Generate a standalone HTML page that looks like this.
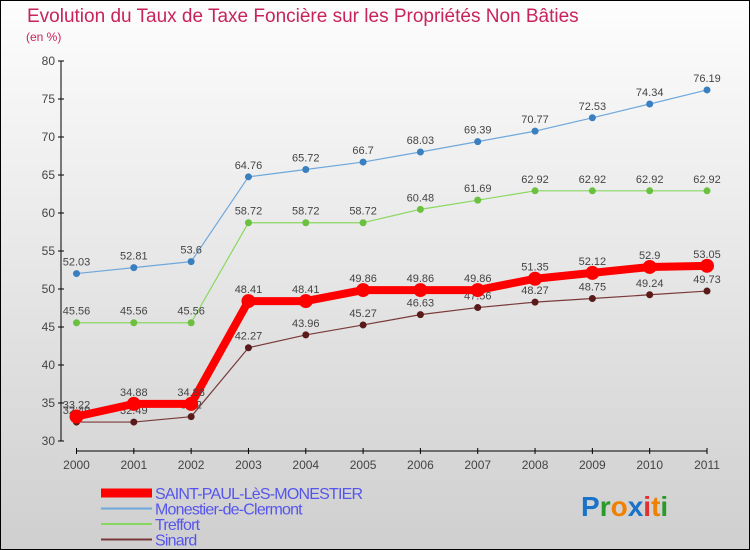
<!DOCTYPE html>
<html><head><meta charset="utf-8"><style>
body{margin:0}
#c{width:750px;height:550px;position:relative;box-sizing:border-box;border:1px solid #000;background:linear-gradient(#fdfdfd,#cfcfcf);font-family:"Liberation Sans",sans-serif;overflow:hidden}
</style></head><body>
<div id="c">
<svg id="s" width="748" height="548" style="position:absolute;left:0;top:0">
<text x="26" y="21" font-size="19" fill="#c8235a">Evolution du Taux de Taxe Foncière sur les Propriétés Non Bâties</text>
<text x="25" y="40" font-size="12" fill="#c8235a">(en %)</text>
<g id="axes"></g><g id="series"></g><g id="legend"></g>
<text x="580" y="515" font-size="28" font-weight="bold"><tspan fill="#1a73c9">P</tspan><tspan fill="#2a9a2a">r</tspan><tspan fill="#f08000">o</tspan><tspan fill="#1a73c9">x</tspan><tspan fill="#e03030">i</tspan><tspan fill="#f08000">t</tspan><tspan fill="#2a9a2a">i</tspan></text>
</svg>
</div>
<script>
const years=["2000","2001","2002","2003","2004","2005","2006","2007","2008","2009","2010","2011"];
const yTicks=[30,35,40,45,50,55,60,65,70,75,80];
const saintPaul=[33.22,34.88,34.88,48.41,48.41,49.86,49.86,49.86,51.35,52.12,52.9,53.05];
const monestier=[52.03,52.81,53.6,64.76,65.72,66.7,68.03,69.39,70.77,72.53,74.34,76.19];
const treffort=[45.56,45.56,45.56,58.72,58.72,58.72,60.48,61.69,62.92,62.92,62.92,62.92];
const sinard=[32.49,32.49,33.2,42.27,43.96,45.27,46.63,47.56,48.27,48.75,49.24,49.73];
const NS="http://www.w3.org/2000/svg";
const X=i=>75.5+i*(706-75.5)/11;
const Y=v=>440-(v-30)*7.6;
function mk(t,a,p){const e=document.createElementNS(NS,t);for(const k in a)e.setAttribute(k,a[k]);p.appendChild(e);return e;}
const ax=document.getElementById('axes');
let l=mk('line',{x1:60,y1:60,x2:60,y2:440,stroke:'#000'},ax);


l=mk('line',{x1:75.5,y1:450,x2:706,y2:450,stroke:'#000'},ax);


yTicks.forEach(v=>{mk('line',{x1:57,x2:63,y1:Y(v),y2:Y(v),stroke:'#000'},ax);
const t=mk('text',{x:54,y:Y(v)+4,'font-size':12,fill:'#444','text-anchor':'end'},ax);t.textContent=v;

});
years.forEach((y,i)=>{mk('line',{x1:X(i),x2:X(i),y1:447,y2:453,stroke:'#000'},ax);
const t=mk('text',{x:X(i),y:468,'font-size':12,fill:'#444','text-anchor':'middle'},ax);t.textContent=y;

});
const sg=document.getElementById('series');
function draw(name,vals,color,w,r,dot){
const g=mk('g',{},sg);


mk('polyline',{points:vals.map((v,i)=>X(i)+','+Y(v)).join(' '),fill:'none',stroke:color,'stroke-width':w,'stroke-linejoin':'round'},g);
vals.forEach((v,i)=>{const c=mk('circle',{cx:X(i),cy:Y(v),r:r,fill:dot},g);


const t=mk('text',{x:X(i),y:Y(v)-8,'font-size':11,fill:'#444','text-anchor':'middle'},g);t.textContent=v;

});}
draw('monestier',monestier,'#6fa8dc',1.2,3.5,'#3a7fc0');
draw('treffort',treffort,'#88d860',1.2,3.5,'#6cc040');
draw('sinard',sinard,'#7a3a3a',1.2,3.5,'#5a1a1a');
draw('saint-paul',saintPaul,'#ff0000',8,7,'#ff0000');
const lg=document.getElementById('legend');
[['SAINT-PAUL-LèS-MONESTIER','#ff0000',9],['Monestier-de-Clermont','#6fa8dc',2],['Treffort','#88d860',2],['Sinard','#7a3a3a',2]].forEach((d,i)=>{
const y=492+i*15.5;
const g=mk('g',{},lg);


mk('line',{x1:100,x2:151,y1:y,y2:y,stroke:d[1],'stroke-width':d[2]},g);
const t=mk('text',{x:154,y:y+6,'font-size':16,fill:'#5555ee','letter-spacing':'-0.8'},g);t.textContent=d[0];});
</script>
</body></html>
